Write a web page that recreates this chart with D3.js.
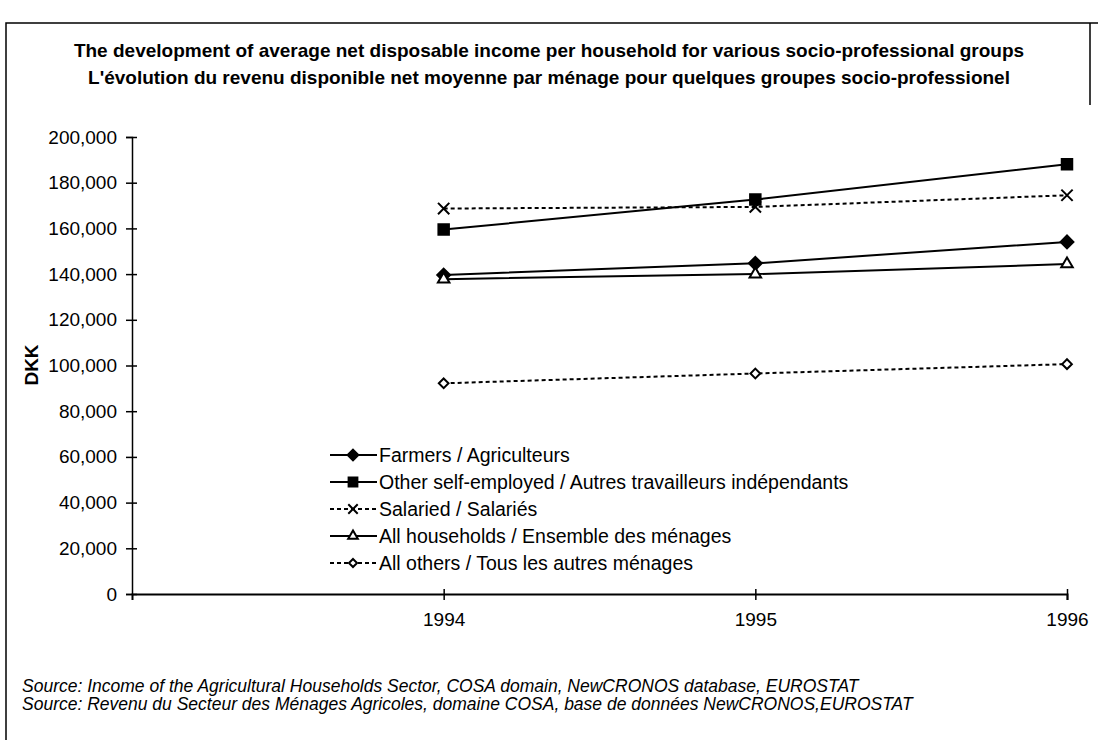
<!DOCTYPE html>
<html>
<head>
<meta charset="utf-8">
<script src="https://cdn.jsdelivr.net/npm/d3@7"></script>
<style>
  body { margin: 0; background: #fff; }
  svg text { font-family: "Liberation Sans", Arial, sans-serif; fill: #000; }
</style>
</head>
<body>
<script>
// categories (first slot is an empty year on the axis)
var years = ["", "1994", "1995", "1996"];

// series values, DKK
var farmers      = [null, 139600, 144700, 154100];
var otherSelf    = [null, 159500, 172600, 188100];
var salaried     = [null, 168700, 169400, 174500];
var allHouse     = [null, 137800, 140000, 144400];
var allOthers    = [null,  92200,  96500, 100600];

var seriesNames = [
  "Farmers / Agriculteurs",
  "Other self-employed / Autres travailleurs indépendants",
  "Salaried / Salariés",
  "All households / Ensemble des ménages",
  "All others / Tous les autres ménages"
];

var yTicks = [0, 20000, 40000, 60000, 80000, 100000, 120000, 140000, 160000, 180000, 200000];

var titleLines = [
  "The development of average net disposable income per household for various socio-professional groups",
  "L'évolution du revenu disponible net moyenne par ménage pour quelques groupes socio-professionel"
];
var sourceLines = [
  "Source: Income of the Agricultural Households Sector, COSA domain, NewCRONOS database, EUROSTAT",
  "Source: Revenu du Secteur des Ménages Agricoles, domaine COSA, base de données NewCRONOS,EUROSTAT"
];

// styles
var series = [
  {name: seriesNames[0], values: farmers,   dash: null,  symbol: d3.symbolDiamond2,  size: 105, fill: "#000"},
  {name: seriesNames[1], values: otherSelf, dash: null,  symbol: d3.symbolSquare,    size: 110, fill: "#000"},
  {name: seriesNames[2], values: salaried,  dash: "4,3", symbol: d3.symbolTimes,     size: 85,  fill: "none"},
  {name: seriesNames[3], values: allHouse,  dash: null,  symbol: d3.symbolTriangle2, size: 95,  fill: "#fff"},
  {name: seriesNames[4], values: allOthers, dash: "4,3", symbol: d3.symbolDiamond2,  size: 60,  fill: "#fff"}
];

var W = 1098, H = 740;
var plot = {left: 132, right: 1067, top: 137, bottom: 594};

var svg = d3.select("body").append("svg")
    .attr("width", W)
    .attr("height", H);

svg.append("rect").attr("width", W).attr("height", H).attr("fill", "#fff");

// frame (scanned original: top, left, and a stub of the right edge)
svg.append("path")
    .attr("d", "M6,740 V23 H1098 M1090,23 V105")
    .attr("fill", "none")
    .attr("stroke", "#000")
    .attr("stroke-width", 1.5);

// title
svg.selectAll(".title")
    .data(titleLines)
  .enter().append("text")
    .attr("class", "title")
    .attr("x", 549)
    .attr("y", function(d, i) { return 50 + i * 27; })
    .attr("text-anchor", "middle")
    .attr("dominant-baseline", "central")
    .style("font-size", "19px")
    .style("font-weight", "bold")
    .text(function(d) { return d; });

var x = d3.scalePoint().domain(years).range([plot.left, plot.right]);
var y = d3.scaleLinear().domain([0, 200000]).range([plot.bottom, plot.top]);

// y axis
var yAxis = svg.append("g")
    .attr("transform", "translate(" + plot.left + ",0)")
    .call(d3.axisLeft(y).tickValues(yTicks).tickFormat(d3.format(",")).tickSize(6).tickPadding(10));
yAxis.select(".domain").attr("stroke", "#000").attr("stroke-width", 1.5);
yAxis.selectAll(".tick line").attr("x1", 5).attr("x2", -6).attr("stroke-width", 1.5);
yAxis.selectAll("text").style("font-size", "19px").attr("x", -15);

// x axis
var xAxis = svg.append("g")
    .attr("transform", "translate(0," + plot.bottom + ")")
    .call(d3.axisBottom(x).tickValues(years.slice(1)).tickSize(6).tickPadding(13));
xAxis.select(".domain").attr("stroke", "#000").attr("stroke-width", 2);
xAxis.selectAll(".tick line").attr("y1", -5).attr("y2", 6).attr("stroke-width", 1.5);
xAxis.selectAll("text").style("font-size", "19px");

// y label
svg.append("text")
    .attr("transform", "translate(31,365) rotate(-90)")
    .attr("text-anchor", "middle")
    .attr("dominant-baseline", "central")
    .style("font-size", "19px")
    .style("font-weight", "bold")
    .text("DKK");

var line = d3.line()
    .defined(function(d) { return d != null; })
    .x(function(d, i) { return x(years[i]); })
    .y(function(d) { return y(d); });

series.forEach(function(s) {
  svg.append("path")
      .datum(s.values)
      .attr("fill", "none")
      .attr("stroke", "#000")
      .attr("stroke-width", 2)
      .attr("stroke-dasharray", s.dash)
      .attr("d", line);

  svg.selectAll(null)
      .data(s.values.map(function(v, i) { return {v: v, year: years[i]}; })
                    .filter(function(d) { return d.v != null; }))
    .enter().append("path")
      .attr("transform", function(d) { return "translate(" + x(d.year) + "," + y(d.v) + ")"; })
      .attr("d", d3.symbol().type(s.symbol).size(s.size))
      .attr("fill", s.fill)
      .attr("stroke", "#000")
      .attr("stroke-width", 2);
});

// legend
var legend = svg.append("g").attr("transform", "translate(330,455)");
var entry = legend.selectAll("g")
    .data(series)
  .enter().append("g")
    .attr("transform", function(d, i) { return "translate(0," + (i * 27) + ")"; });

entry.append("line")
    .attr("x1", 0).attr("x2", 47)
    .attr("stroke", "#000")
    .attr("stroke-width", 2)
    .attr("stroke-dasharray", function(d) { return d.dash; });

entry.append("path")
    .attr("transform", "translate(23,0)")
    .attr("d", function(d) { return d3.symbol().type(d.symbol).size(d.size * 0.7)(); })
    .attr("fill", function(d) { return d.fill; })
    .attr("stroke", "#000")
    .attr("stroke-width", 2);

entry.append("text")
    .attr("x", 49)
    .attr("dominant-baseline", "central")
    .style("font-size", "19.5px")
    .text(function(d) { return d.name; });

// source notes
svg.selectAll(".source")
    .data(sourceLines)
  .enter().append("text")
    .attr("class", "source")
    .attr("x", 22)
    .attr("y", function(d, i) { return 686 + i * 18; })
    .attr("dominant-baseline", "central")
    .style("font-size", "17.5px")
    .style("font-style", "italic")
    .text(function(d) { return d; });
</script>
</body>
</html>
